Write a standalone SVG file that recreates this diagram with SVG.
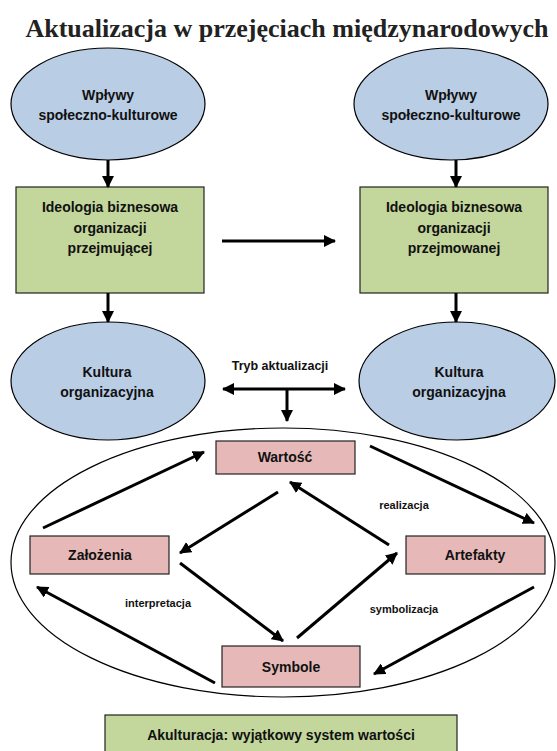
<svg xmlns="http://www.w3.org/2000/svg" width="557" height="751" viewBox="0 0 557 751">
<defs>
<marker id="ah" viewBox="0 0 12 12" refX="11" refY="6" markerWidth="12" markerHeight="12" markerUnits="userSpaceOnUse" orient="auto-start-reverse">
<path d="M0,0 L12,6 L0,12 Z" fill="#000"/>
</marker>
<style>
.ell{fill:#b9cde5;stroke:#000;stroke-width:1.2}
.gbox{fill:#c3d69b;stroke:#222;stroke-width:1.2}
.pbox{fill:#e6b9b8;stroke:#222;stroke-width:1.2}
.big{fill:none;stroke:#000;stroke-width:1.2}
.t{font-family:"Liberation Sans",Arial,sans-serif;font-weight:bold;font-size:14px;fill:#111;text-anchor:middle}
.s{font-family:"Liberation Sans",Arial,sans-serif;font-weight:bold;font-size:11px;fill:#111;text-anchor:middle}
.title{font-family:"Liberation Serif","Times New Roman",serif;font-weight:bold;font-size:26px;fill:#222;text-anchor:middle}
.c{stroke:#000;stroke-width:3;fill:none;marker-end:url(#ah)}
</style>
</defs>
<rect width="557" height="751" fill="#fff"/>
<text class="title" x="287" y="37">Aktualizacja w przejęciach międzynarodowych</text>

<g id="big-ellipse"><ellipse class="big" cx="283" cy="562.5" rx="272" ry="134.5"/></g>

<g id="wplywy-left"><ellipse class="ell" cx="108" cy="104" rx="97" ry="56"/>
<text class="t" x="108" y="99.5">Wpływy</text><text class="t" x="108" y="119.5">społeczno-kulturowe</text></g>
<g id="wplywy-right"><ellipse class="ell" cx="451" cy="104" rx="97" ry="56"/>
<text class="t" x="451" y="99.5">Wpływy</text><text class="t" x="451" y="119.5">społeczno-kulturowe</text></g>

<g id="ideologia-left"><rect class="gbox" x="16" y="187" width="188" height="106"/>
<text class="t" x="110" y="211.5">Ideologia biznesowa</text><text class="t" x="110" y="232.5">organizacji</text><text class="t" x="110" y="252.5">przejmującej</text></g>
<g id="ideologia-right"><rect class="gbox" x="360" y="187" width="188" height="106"/>
<text class="t" x="454" y="211.5">Ideologia biznesowa</text><text class="t" x="454" y="232.5">organizacji</text><text class="t" x="454" y="252.5">przejmowanej</text></g>

<g id="kultura-left"><ellipse class="ell" cx="108" cy="381" rx="97" ry="59"/>
<text class="t" x="107" y="376.5">Kultura</text><text class="t" x="107" y="396.5">organizacyjna</text></g>
<g id="kultura-right"><ellipse class="ell" cx="457" cy="381" rx="98" ry="59"/>
<text class="t" x="459" y="376.5">Kultura</text><text class="t" x="459" y="396.5">organizacyjna</text></g>

<g id="wartosc"><rect class="pbox" x="216" y="441" width="139" height="33"/><text class="t" x="285" y="462">Wartość</text></g>
<g id="zalozenia"><rect class="pbox" x="30" y="536" width="139" height="38"/><text class="t" x="100" y="560">Założenia</text></g>
<g id="artefakty"><rect class="pbox" x="406" y="536" width="139" height="38"/><text class="t" x="475" y="560">Artefakty</text></g>
<g id="symbole"><rect class="pbox" x="222" y="646" width="138" height="41"/><text class="t" x="291" y="671.5">Symbole</text></g>
<g id="akulturacja"><rect class="gbox" x="105" y="715" width="352" height="45"/><text class="t" x="281" y="740">Akulturacja: wyjątkowy system wartości</text></g>

<g id="labels">
<text class="t" style="font-size:12.5px" x="280" y="369.5">Tryb aktualizacji</text>
<text class="s" x="404" y="509">realizacja</text>
<text class="s" x="158" y="607">interpretacja</text>
<text class="s" x="404" y="613">symbolizacja</text>
</g>

<g id="connectors">
<line class="c" x1="108" y1="160" x2="108" y2="187"/>
<line class="c" x1="456" y1="160" x2="456" y2="187"/>
<line class="c" x1="222" y1="241" x2="335" y2="241"/>
<line class="c" x1="108" y1="293" x2="108" y2="322"/>
<line class="c" x1="456" y1="293" x2="456" y2="322"/>
<line class="c" style="marker-start:url(#ah)" x1="223" y1="389" x2="345" y2="389"/>
<line class="c" x1="287" y1="389" x2="287" y2="421"/>
<line class="c" x1="43" y1="528" x2="204" y2="452"/>
<line class="c" x1="370" y1="446" x2="534" y2="523"/>
<line class="c" x1="278" y1="492" x2="180" y2="553"/>
<line class="c" x1="389" y1="545" x2="290" y2="482"/>
<line class="c" x1="180" y1="563" x2="283" y2="641"/>
<line class="c" x1="297" y1="638" x2="397" y2="553"/>
<line class="c" x1="215" y1="683" x2="37" y2="587"/>
<line class="c" x1="534" y1="587" x2="374" y2="674"/>
</g>
</svg>
